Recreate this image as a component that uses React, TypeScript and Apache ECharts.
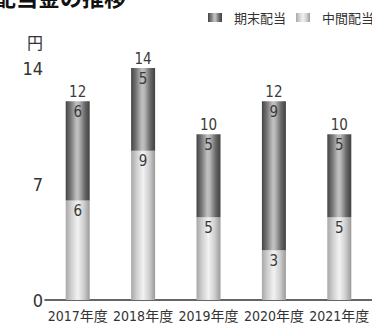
import React, { useEffect, useRef } from "react";
import * as echarts from "echarts";

const categories = ["2017年度", "2018年度", "2019年度", "2020年度", "2021年度"];
const interimDividend = [6, 9, 5, 3, 5];
const yearEndDividend = [6, 5, 5, 9, 5];
const totalDividend = [12, 14, 10, 12, 10];
const legendNames = ["期末配当", "中間配当"];
const titleText = "配当金の推移";
const unitText = "円";

const NARROW = "'Liberation Sans Narrow', 'DejaVu Sans Condensed', 'Noto Sans CJK JP', sans-serif";
const CJK = "'Noto Sans CJK JP', 'Noto Sans', sans-serif";

const darkGrad = () =>
  new echarts.graphic.LinearGradient(0, 0, 1, 0, [
    { offset: 0, color: "#444444" },
    { offset: 0.2, color: "#747474" },
    { offset: 0.45, color: "#c0c0c0" },
    { offset: 0.55, color: "#b8b8b8" },
    { offset: 0.8, color: "#686868" },
    { offset: 1, color: "#404040" },
  ]);
const lightGrad = () =>
  new echarts.graphic.LinearGradient(0, 0, 1, 0, [
    { offset: 0, color: "#a8a8a8" },
    { offset: 0.25, color: "#d2d2d2" },
    { offset: 0.5, color: "#f2f2f2" },
    { offset: 0.75, color: "#d0d0d0" },
    { offset: 1, color: "#9a9a9a" },
  ]);

export default function App() {
  const ref = useRef<HTMLDivElement>(null);
  useEffect(() => {
    if (!ref.current) return;
    const chart = echarts.init(ref.current, null, { renderer: "svg" });
    const labelBase = {
      show: true,
      color: "#3a3a3a",
      fontSize: 15,
      fontFamily: NARROW,
    };
    chart.setOption({
      animation: false,
      backgroundColor: "#ffffff",
      graphic: [
        {
          type: "text",
          left: -6,
          top: -15,
          style: {
            text: titleText,
            fontSize: 22,
            fontWeight: "bold",
            fontFamily: CJK,
            fill: "#111111",
          },
        },
      ],
      legend: {
        data: legendNames,
        orient: "horizontal",
        left: 208,
        top: 11,
        width: 240,
        padding: 0,
        itemWidth: 14,
        itemHeight: 9,
        itemGap: 10,
        icon: "rect",
        textStyle: {
          fontSize: 13,
          color: "#333333",
          fontFamily: CJK,
          padding: [0, 0, 0, 7],
        },
      },
      grid: { left: 45, right: -13, top: 68, bottom: 28 },
      xAxis: {
        type: "category",
        data: categories,
        axisLine: { lineStyle: { color: "#333333", width: 1.5 } },
        axisTick: { show: false },
        axisLabel: {
          interval: 0,
          margin: 9,
          fontSize: 14,
          color: "#333333",
          fontFamily: NARROW,
        },
      },
      yAxis: {
        type: "value",
        min: 0,
        max: 14,
        interval: 7,
        name: unitText,
        nameLocation: "end",
        nameGap: 18,
        nameTextStyle: {
          align: "right",
          fontSize: 16,
          color: "#333333",
          fontFamily: CJK,
          padding: [0, 2, 0, 0],
        },
        axisLine: { show: false },
        axisTick: { show: false },
        splitLine: { show: false },
        axisLabel: {
          margin: 2,
          fontSize: 18,
          color: "#333333",
          fontFamily: NARROW,
        },
      },
      series: [
        {
          name: "中間配当",
          type: "bar",
          stack: "total",
          barWidth: 24,
          data: interimDividend,
          itemStyle: { color: lightGrad() },
          label: { ...labelBase, position: "insideTop", distance: 3 },
        },
        {
          name: "期末配当",
          type: "bar",
          stack: "total",
          barWidth: 24,
          data: yearEndDividend,
          itemStyle: { color: darkGrad() },
          label: { ...labelBase, position: "insideTop", distance: 3 },
        },
        {
          name: "合計",
          type: "bar",
          stack: "total",
          barWidth: 24,
          data: totalDividend.map(() => 0),
          itemStyle: { color: "transparent" },
          label: {
            ...labelBase,
            position: "top",
            distance: 2,
            formatter: (p: any) => String(totalDividend[p.dataIndex]),
          },
        },
      ],
    });
    return () => chart.dispose();
  }, []);
  return (
    <div
      ref={ref}
      style={{ position: "fixed", left: 0, top: 0, width: 372, height: 328 }}
    />
  );
}
